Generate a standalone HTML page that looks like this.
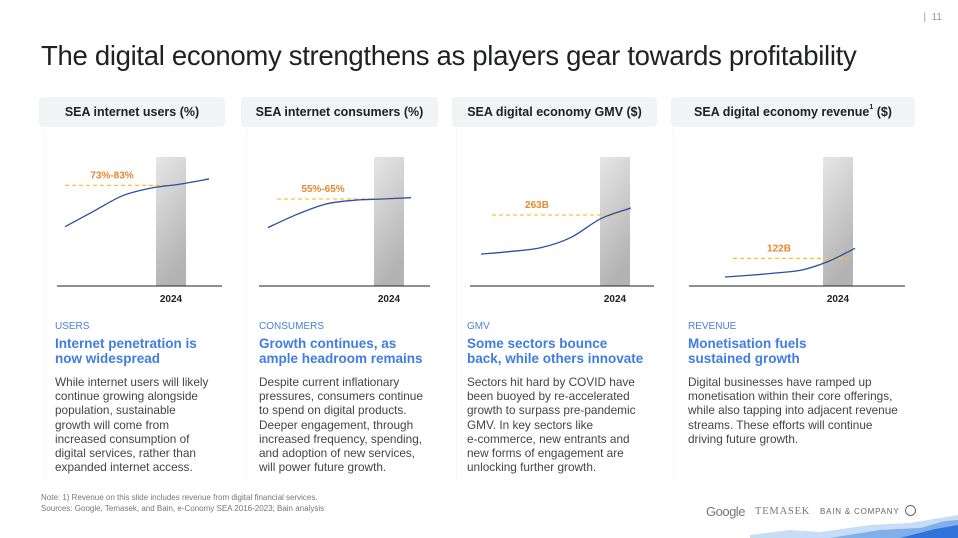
<!DOCTYPE html>
<html><head><meta charset="utf-8">
<style>
body{margin:0;width:958px;height:538px;background:#fff;font-family:"Liberation Sans",sans-serif;overflow:hidden;position:relative}
.abs{position:absolute}
.title{left:41px;top:40px;font-size:27.5px;color:#202124;white-space:nowrap;letter-spacing:-0.3px}
.hdr{top:97px;height:30px;background:#f1f3f4;border-radius:4px;font-size:12.5px;font-weight:bold;color:#202124;text-align:center;line-height:30px}
.cat{font-size:10px;color:#4a7fd9;top:321px}
.head{font-size:13.5px;font-weight:bold;color:#3f7de0;top:336px;line-height:15px}
.body{font-size:11.8px;color:#444;top:375px;line-height:14.2px;white-space:nowrap}
.sep{top:130px;height:350px;border-left:1px dotted #eee}
</style></head><body>
<div class="abs" style="right:16px;top:12px;font-size:10px;color:#999">|&nbsp; 11</div>
<div class="abs title">The digital economy strengthens as players gear towards profitability</div>

<div class="abs hdr" style="left:39px;width:186px">SEA internet users (%)</div>
<div class="abs hdr" style="left:241px;width:197px">SEA internet consumers (%)</div>
<div class="abs hdr" style="left:452px;width:205px">SEA digital economy GMV ($)</div>
<div class="abs hdr" style="left:671px;width:244px">SEA digital economy revenue<span style="font-size:7px;vertical-align:top;line-height:22px">1</span> ($)</div>

<div class="abs sep" style="left:44px"></div>
<div class="abs sep" style="left:246px"></div>
<div class="abs sep" style="left:456px"></div>
<div class="abs sep" style="left:673px"></div>

<svg class="abs" id="charts" style="left:0;top:0" width="958" height="330">
<defs><linearGradient id="bg" x1="0" y1="0" x2="0.3" y2="1"><stop offset="0" stop-color="#e6e6e6"/><stop offset="1" stop-color="#b3b3b3"/></linearGradient></defs>
</svg>

<div class="abs cat" style="left:55px">USERS</div>
<div class="abs head" style="left:55px">Internet penetration is<br>now widespread</div>
<div class="abs body" style="left:55px">While internet users will likely<br>continue growing alongside<br>population, sustainable<br>growth will come from<br>increased consumption of<br>digital services, rather than<br>expanded internet access.</div>

<div class="abs cat" style="left:259px">CONSUMERS</div>
<div class="abs head" style="left:259px">Growth continues, as<br>ample headroom remains</div>
<div class="abs body" style="left:259px">Despite current inflationary<br>pressures, consumers continue<br>to spend on digital products.<br>Deeper engagement, through<br>increased frequency, spending,<br>and adoption of new services,<br>will power future growth.</div>

<div class="abs cat" style="left:467px">GMV</div>
<div class="abs head" style="left:467px">Some sectors bounce<br>back, while others innovate</div>
<div class="abs body" style="left:467px">Sectors hit hard by COVID have<br>been buoyed by re-accelerated<br>growth to surpass pre-pandemic<br>GMV. In key sectors like<br>e-commerce, new entrants and<br>new forms of engagement are<br>unlocking further growth.</div>

<div class="abs cat" style="left:688px">REVENUE</div>
<div class="abs head" style="left:688px">Monetisation fuels<br>sustained growth</div>
<div class="abs body" style="left:688px">Digital businesses have ramped up<br>monetisation within their core offerings,<br>while also tapping into adjacent revenue<br>streams. These efforts will continue<br>driving future growth.</div>

<div class="abs" style="left:41px;top:492px;font-size:8px;color:#777;line-height:11px">Note: 1) Revenue on this slide includes revenue from digital financial services.<br>Sources: Google, Temasek, and Bain, e-Conomy SEA 2016-2023; Bain analysis</div>

<div class="abs" style="left:706px;top:504px;font-size:13px;color:#777;letter-spacing:-0.5px">Google</div>
<div class="abs" style="left:755px;top:506px;font-size:10.5px;color:#777;font-family:'Liberation Serif',serif;letter-spacing:0.8px">TEMASEK</div>
<div class="abs" style="left:820px;top:507px;font-size:8px;color:#666;letter-spacing:0.8px">BAIN &amp; COMPANY</div>
<div class="abs" style="left:905px;top:505px;width:9px;height:9px;border:1px solid #666;border-radius:50%"></div>
<svg class="abs" style="left:750px;top:515px" width="208" height="23">
<path d="M0,20 L40,15 L70,17 L120,10 L160,8 L190,3 L208,0 L208,23 L0,23Z" fill="#c7dcf5"/>
<path d="M80,23 L130,15 L170,13 L195,6 L208,5 L208,23Z" fill="#7fb0ea"/>
<path d="M150,23 L185,14 L208,10 L208,23Z" fill="#2f73db"/>
</svg>

<script>
const years = [2016, 2018, 2020, 2022, 2024, 2026];
const usersValues = [46, 58, 70, 76, 79, 83];
const consumersValues = [45, 55, 63, 66, 67, 68];
const gmvValues = [118, 128, 142, 180, 250, 289];
const revenueValues = [40, 48, 58, 72, 110, 167];
const targetValues = [78, 67, 263, 122];
const targetLabels = ["73%-83%", "55%-65%", "263B", "122B"];
const highlightYear = 2024;
const yearLabel = "2024";

const panels = [
 {vals: usersValues, max:100, x0:65, x1:209, ax0:57, ax1:222, bar:156, dash:[65,178], lab:112},
 {vals: consumersValues, max:100*129/(286-199)*0.67, x0:268, x1:411, ax0:259, ax1:430, bar:374, dash:[277,402], lab:323},
 {vals: gmvValues, max:478, x0:481, x1:631, ax0:470, ax1:654, bar:600, dash:[492,620], lab:537},
 {vals: revenueValues, max:571, x0:725, x1:855, ax0:689, ax1:905, bar:823, dash:[733,850], lab:779}
];
const svg = document.getElementById('charts');
const NS = 'http://www.w3.org/2000/svg';
function mk(t, a){const e=document.createElementNS(NS,t);for(const k in a)e.setAttribute(k,a[k]);svg.appendChild(e);return e;}
panels.forEach((p,i)=>{
  const xs = y => p.x0 + (y-years[0])/(years[years.length-1]-years[0])*(p.x1-p.x0);
  const ys = v => 286 - v/p.max*129;
  const bar = mk('rect',{x:p.bar,y:157,width:30,height:129,fill:'url(#bg)',rx:1});
  
  
  const ax = mk('line',{x1:p.ax0,x2:p.ax1,y1:286,y2:286,stroke:'#222','stroke-width':1});
  
  
  const yl = mk('text',{x:p.bar+15,y:302,'text-anchor':'middle','font-size':10,'font-weight':'bold',fill:'#222'});
  yl.textContent = yearLabel;
  
  
  const ty = ys(targetValues[i]);
  const dl = mk('line',{x1:p.dash[0],x2:p.dash[1],y1:ty,y2:ty,stroke:'#f5c342','stroke-width':1.3,'stroke-dasharray':'4,3'});
  
  
  const tl = mk('text',{x:p.lab,y:ty-7,'text-anchor':'middle','font-size':10,'font-weight':'bold',fill:'#e8872f'});
  tl.textContent = targetLabels[i];
  
  
  const pts = years.map((y,k)=>[xs(y),ys(p.vals[k])]);
  let d = 'M'+pts[0][0]+','+pts[0][1];
  for(let k=0;k<pts.length-1;k++){
    const p0=pts[Math.max(k-1,0)],p1=pts[k],p2=pts[k+1],p3=pts[Math.min(k+2,pts.length-1)];
    d+=' C'+(p1[0]+(p2[0]-p0[0])/6)+','+(p1[1]+(p2[1]-p0[1])/6)+' '+(p2[0]-(p3[0]-p1[0])/6)+','+(p2[1]-(p3[1]-p1[1])/6)+' '+p2[0]+','+p2[1];
  }
  const ln = mk('path',{d:d,fill:'none',stroke:'#2a4f9e','stroke-width':1.3});
  
  
});
</script>
</body></html>
